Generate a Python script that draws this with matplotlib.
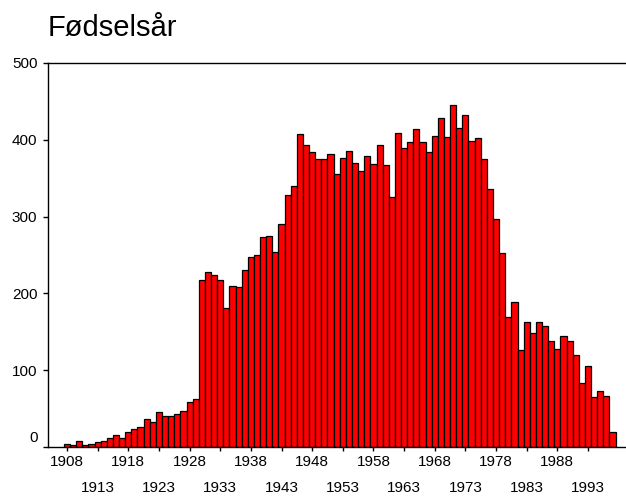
import matplotlib
matplotlib.use('Agg')
import matplotlib.pyplot as plt
from matplotlib.transforms import ScaledTranslation

plt.rcParams['font.family'] = ['Liberation Sans', 'DejaVu Sans']

years = list(range(1908, 1998))
counts = [4, 2, 8, 2, 4, 6, 8, 12, 16, 12,
          19, 24, 26, 37, 32, 45, 41, 41, 43, 47,
          59, 63, 217, 228, 224, 217, 181, 210, 208, 230,
          248, 250, 273, 275, 254, 291, 328, 340, 407, 393,
          384, 375, 375, 381, 355, 376, 385, 370, 360, 379,
          369, 393, 367, 326, 409, 389, 397, 414, 397, 384,
          405, 428, 403, 445, 416, 432, 399, 402, 375, 336,
          297, 253, 169, 189, 126, 163, 148, 163, 157, 138,
          128, 145, 138, 120, 83, 106, 65, 73, 67, 20]
tick_years = list(range(1908, 1994, 5))
title = 'Fødselsår'

fig = plt.figure(figsize=(6.26, 4.97), dpi=100)
ax = fig.add_axes([48 / 626, 50 / 497, 1 - 48 / 626, 384 / 497])

ax.bar(years, counts, width=1.0, color='#ff0000', edgecolor='black', linewidth=0.9)

ax.set_xlim(1904.9, 1999.2)
ax.set_ylim(0, 500)
ax.set_yticks([0, 100, 200, 300, 400, 500])
ax.set_xticks(tick_years)
ax.set_xticklabels([str(y) for y in tick_years])

ax.tick_params(axis='y', direction='out', length=3.6, width=1.0, pad=4.0, labelsize=11)
ax.tick_params(axis='x', direction='out', length=2.9, width=1.0, pad=3.0, labelsize=11)

for sp in ['left', 'top', 'bottom']:
    ax.spines[sp].set_linewidth(1.0)
ax.spines['right'].set_visible(False)

# second row of year labels
for i, lab in enumerate(ax.get_xticklabels()):
    if i % 2 == 1:
        lab.set_transform(lab.get_transform() + ScaledTranslation(0, -0.26, fig.dpi_scale_trans))

# zero label sits a bit above the axis
ylabs = ax.get_yticklabels()
ylabs[0].set_transform(ylabs[0].get_transform() + ScaledTranslation(0, 0.10, fig.dpi_scale_trans))

fig.text(48 / 626, 1 - 35.7 / 497, title, fontsize=21, ha='left', va='baseline')

fig.savefig('out.png', dpi=100)
